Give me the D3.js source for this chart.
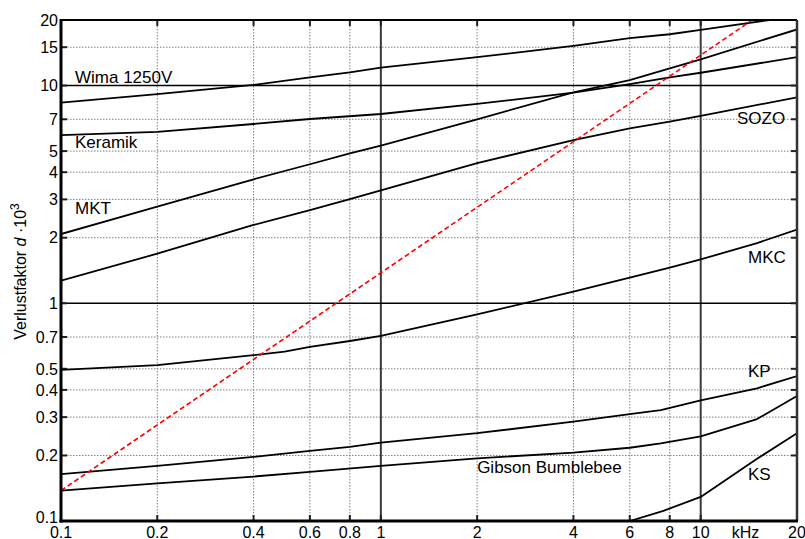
<!DOCTYPE html>
<html>
<head>
<meta charset="utf-8">
<script src="https://cdn.jsdelivr.net/npm/d3@7"></script>
<style>
  html, body { margin: 0; padding: 0; background: #fff; }
  svg { display: block; font-family: "Liberation Sans", Arial, Helvetica, sans-serif; }
</style>
</head>
<body>
<svg id="chart" width="805" height="539"></svg>
<script>
// Loss factor d·10^3 versus frequency (kHz), log-log
const xTicks = [0.1, 0.2, 0.4, 0.6, 0.8, 1, 2, 4, 6, 8, 10, 20];
const yTicks = [0.1, 0.2, 0.3, 0.4, 0.5, 0.7, 1, 2, 3, 4, 5, 7, 10, 15, 20];
const decades = [1, 10];

const wima = [[0.1, 8.34], [0.2, 9.14], [0.4, 10.06], [0.6, 10.9], [0.8, 11.5], [1, 12.08],
              [2, 13.5], [4, 15.2], [6, 16.5], [8, 17.2], [10, 18.0], [16.4, 20]];
const keramik = [[0.1, 5.92], [0.2, 6.13], [0.4, 6.66], [0.6, 7.02], [1, 7.4],
                 [2, 8.23], [4, 9.27], [6, 10.16], [8, 10.9], [10, 11.45], [20, 13.5]];
const mkt = [[0.1, 2.08], [0.2, 2.78], [0.4, 3.71], [0.6, 4.35], [0.8, 4.88], [1, 5.3],
             [2, 7.0], [4, 9.3], [6, 10.6], [8, 12.0], [10, 13.2], [20, 18.1]];
const sozo = [[0.1, 1.27], [0.2, 1.69], [0.4, 2.29], [0.6, 2.68], [0.8, 3.01], [1, 3.3],
              [2, 4.4], [4, 5.62], [6, 6.36], [8, 6.82], [10, 7.25], [20, 8.83]];
const mkc = [[0.1, 0.494], [0.2, 0.52], [0.4, 0.578], [0.5, 0.6], [0.6, 0.631], [0.8, 0.671],
             [1, 0.708], [2, 0.889], [4, 1.13], [6, 1.31], [8, 1.457], [10, 1.59], [15, 1.89], [20, 2.18]];
const kp = [[0.1, 0.164], [0.2, 0.179], [0.4, 0.197], [0.6, 0.21], [0.8, 0.219], [1, 0.229],
            [2, 0.253], [4, 0.286], [6, 0.31], [7.5, 0.323], [10, 0.358], [15, 0.407], [20, 0.463]];
const gibson = [[0.1, 0.138], [0.2, 0.149], [0.4, 0.16], [0.6, 0.168], [1, 0.179],
                [2, 0.194], [4, 0.206], [6, 0.217], [7.5, 0.227], [10, 0.245], [15, 0.294], [20, 0.375]];
const ks = [[6, 0.1], [7.6, 0.111], [10, 0.129], [15, 0.193], [20, 0.253]];
const reference = [[0.1, 0.138], [14.5, 20]];

const seriesList = [wima, keramik, mkt, sozo, mkc, kp, gibson, ks];

const labels = [
  { text: "Wima 1250V", x: 0.1, y: 10.3, dx: 14 },
  { text: "Keramik", x: 0.1, y: 5.15, dx: 14 },
  { text: "MKT", x: 0.1, y: 2.57, dx: 14 },
  { text: "SOZO", x: 20, y: 6.66, dx: -60 },
  { text: "MKC", x: 20, y: 1.53, dx: -49 },
  { text: "KP", x: 20, y: 0.46, dx: -49 },
  { text: "Gibson Bumblebee", x: 2, y: 0.167, dx: 0 },
  { text: "KS", x: 20, y: 0.154, dx: -49 }
];

const svg = d3.select("#chart");
const mLeft = 61, mRight = 797, mTop = 20, mBottom = 521;

const x = d3.scaleLog().domain([0.1, 20]).range([mLeft, mRight]);
const y = d3.scaleLog().domain([0.1, 20]).range([mBottom, mTop]);

svg.append("defs").append("clipPath").attr("id", "plotClip")
  .append("rect").attr("x", mLeft).attr("y", mTop)
  .attr("width", mRight - mLeft).attr("height", mBottom - mTop);

// dotted grid
const grid = svg.append("g");
grid.selectAll(".gx").data(xTicks.filter(v => !decades.includes(v) && v > 0.1 && v < 20))
  .join("line")
  .attr("x1", d => x(d)).attr("x2", d => x(d))
  .attr("y1", mTop).attr("y2", mBottom)
  .attr("stroke", "#808080").attr("stroke-width", 1).attr("stroke-dasharray", "1.5,1.5");
grid.selectAll(".gy").data(yTicks.filter(v => !decades.includes(v) && v > 0.1 && v < 20))
  .join("line")
  .attr("x1", mLeft).attr("x2", mRight)
  .attr("y1", d => y(d)).attr("y2", d => y(d))
  .attr("stroke", "#808080").attr("stroke-width", 1).attr("stroke-dasharray", "1.5,1.5");

// solid decade lines
grid.selectAll(".dx").data(decades).join("line")
  .attr("x1", d => x(d)).attr("x2", d => x(d))
  .attr("y1", mTop).attr("y2", mBottom)
  .attr("stroke", "#3a3a3a").attr("stroke-width", 2);
grid.selectAll(".dy").data(decades).join("line")
  .attr("x1", mLeft).attr("x2", mRight)
  .attr("y1", d => y(d)).attr("y2", d => y(d))
  .attr("stroke", "#000").attr("stroke-width", 1.5);

// inward tick marks on all four sides
const tickLen = 6;
const tk = svg.append("g").attr("stroke", "#222").attr("stroke-width", 2);
tk.selectAll(".tl").data(yTicks).join("line")
  .attr("x1", mLeft).attr("x2", mLeft + tickLen).attr("y1", d => y(d)).attr("y2", d => y(d));
tk.selectAll(".tr").data(yTicks).join("line")
  .attr("x1", mRight).attr("x2", mRight - tickLen).attr("y1", d => y(d)).attr("y2", d => y(d));
tk.selectAll(".tb").data(xTicks).join("line")
  .attr("x1", d => x(d)).attr("x2", d => x(d)).attr("y1", mBottom).attr("y2", mBottom - tickLen);
tk.selectAll(".tt").data(xTicks).join("line")
  .attr("x1", d => x(d)).attr("x2", d => x(d)).attr("y1", mTop).attr("y2", mTop + tickLen);

// curves
const line = d3.line().x(d => x(d[0])).y(d => y(d[1]));
const curves = svg.append("g").attr("clip-path", "url(#plotClip)");
curves.selectAll(".c").data(seriesList).join("path")
  .attr("d", line)
  .attr("fill", "none").attr("stroke", "#000").attr("stroke-width", 1.8)
  .attr("stroke-linejoin", "round");
curves.append("path").datum(reference)
  .attr("d", line)
  .attr("fill", "none").attr("stroke", "#ff0000").attr("stroke-width", 1.6)
  .attr("stroke-dasharray", "5,3");

// frame
svg.append("line").attr("x1", mLeft).attr("x2", mRight).attr("y1", mTop).attr("y2", mTop)
  .attr("stroke", "#000").attr("stroke-width", 2);
svg.append("line").attr("x1", mRight).attr("x2", mRight).attr("y1", mTop).attr("y2", mBottom)
  .attr("stroke", "#333").attr("stroke-width", 2.5);
svg.append("line").attr("x1", mLeft).attr("x2", mLeft).attr("y1", mTop - 1).attr("y2", mBottom + 1.5)
  .attr("stroke", "#000").attr("stroke-width", 3);
svg.append("line").attr("x1", mLeft - 1.5).attr("x2", mRight + 1).attr("y1", mBottom).attr("y2", mBottom)
  .attr("stroke", "#000").attr("stroke-width", 3);

// tick labels
const fmt = d => String(d);
svg.append("g").selectAll("text").data(yTicks).join("text")
  .attr("x", mLeft - 3).attr("y", d => y(d)).attr("dy", d => d === 0.1 ? "0.1em" : "0.36em")
  .attr("text-anchor", "end").attr("font-size", 16).attr("fill", "#000")
  .text(fmt);
svg.append("g").selectAll("text").data(xTicks).join("text")
  .attr("x", d => x(d)).attr("y", 537.5)
  .attr("text-anchor", "middle").attr("font-size", 16).attr("fill", "#000")
  .text(fmt);
svg.append("text").attr("x", x(13.8)).attr("y", 537.5)
  .attr("text-anchor", "middle").attr("font-size", 16).text("kHz");

// y axis title
const yt = svg.append("text")
  .attr("transform", `translate(26,${(mTop + mBottom) / 2 + 1}) rotate(-90)`)
  .attr("text-anchor", "middle").attr("font-size", 16);
yt.append("tspan").text("Verlustfaktor ");
yt.append("tspan").attr("font-style", "italic").text("d");
yt.append("tspan").text(" ·10");
yt.append("tspan").attr("font-size", 12).attr("dy", "-0.6em").text("3");

// series labels
svg.append("g").selectAll("text").data(labels).join("text")
  .attr("x", d => x(d.x) + d.dx).attr("y", d => y(d.y))
  .attr("font-size", 17).attr("fill", "#000")
  .text(d => d.text);
</script>
</body>
</html>
